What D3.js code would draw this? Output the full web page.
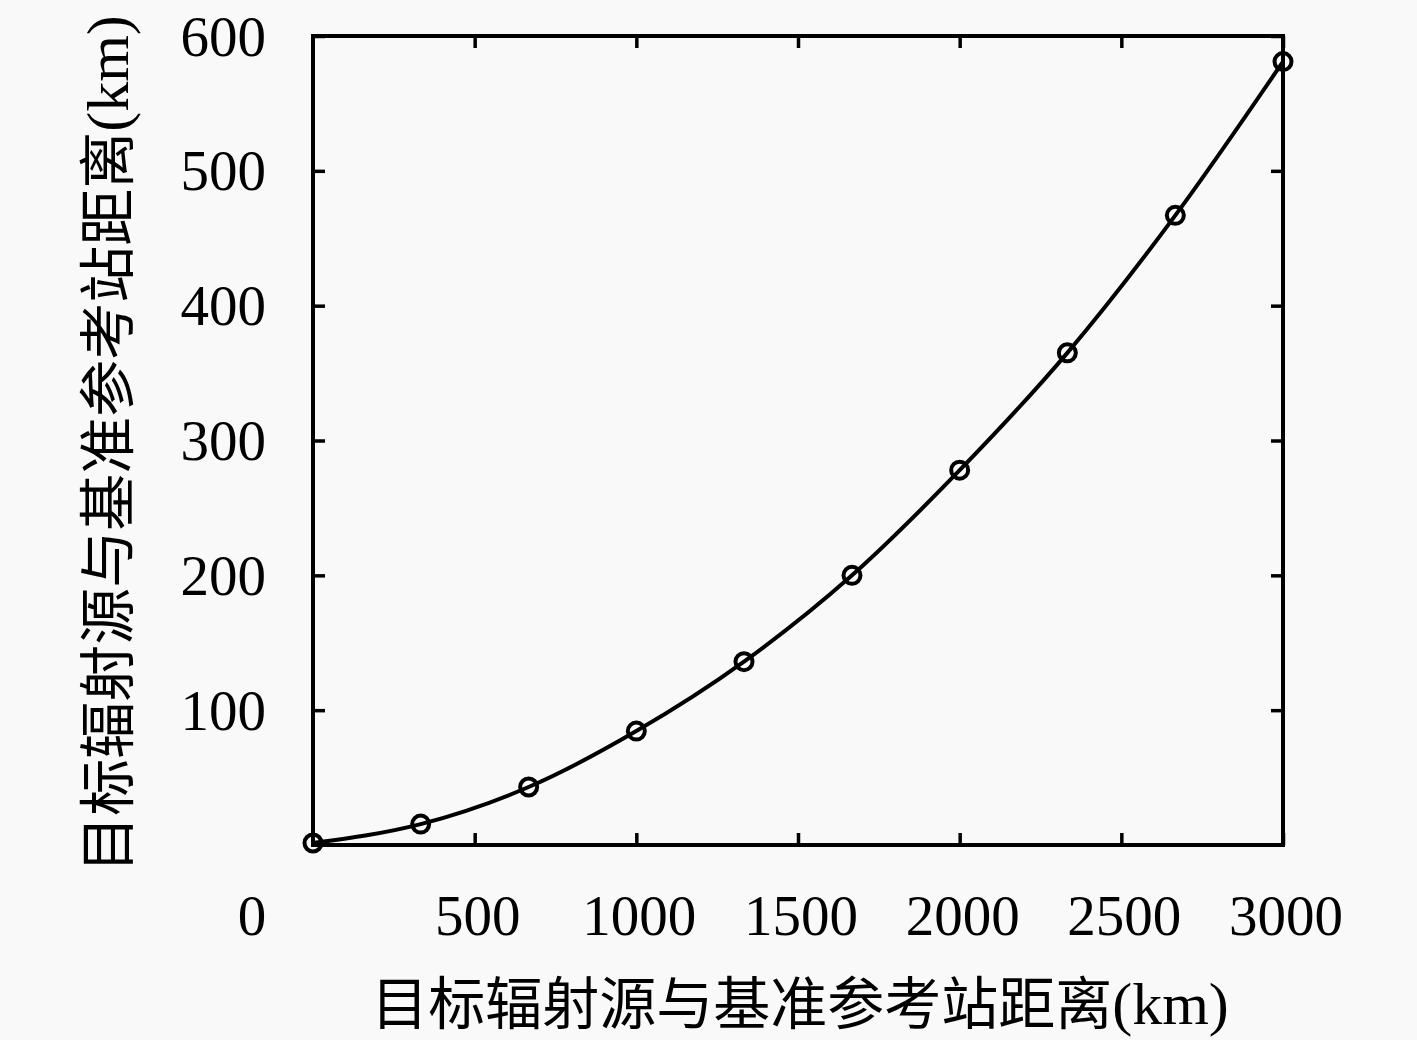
<!DOCTYPE html>
<html>
<head>
<meta charset="utf-8">
<script src="https://cdn.jsdelivr.net/npm/d3@7"></script>
<style>
  body { margin: 0; background: #f9f9f9; }
  svg { display: block; }
</style>
</head>
<body>
<div id="chart"></div>
<script>
// distance of emitter from reference station (km) vs. error (km)
const distances = [0, 333, 667, 1000, 1333, 1667, 2000, 2333, 2667, 3000];
const errors = [1.5, 15.5, 43, 84.5, 136, 200, 278, 365, 467, 581];
const xTicks = [500, 1000, 1500, 2000, 2500, 3000];
const yTicks = [100, 200, 300, 400, 500, 600];
const xLabel = '目标辐射源与基准参考站距离';
const yLabel = '目标辐射源与基准参考站距离';

const width = 1417;
const height = 1040;
const margin = { left: 313, right: 134, top: 36, bottom: 195 };
const numFont = '"Liberation Serif", "DejaVu Serif", serif';
const cjkFont = '"Noto Sans CJK SC", sans-serif';

const svg = d3.select('#chart')
    .append('svg')
    .attr('width', width)
    .attr('height', height)
    .style('background', '#f9f9f9');

const x = d3.scaleLinear().domain([0, 3000]).range([margin.left, width - margin.right]);
const y = d3.scaleLinear().domain([0, 600]).range([height - margin.bottom, margin.top]);

const tickLen = 12;

// ticks on all four sides, pointing in
svg.append('g')
    .attr('transform', `translate(0,${y(0)})`)
    .call(d3.axisBottom(x).tickValues(xTicks).tickSize(-tickLen).tickFormat(''))
    .call(g => g.select('.domain').remove());
svg.append('g')
    .attr('transform', `translate(0,${y(600)})`)
    .call(d3.axisTop(x).tickValues(xTicks).tickSize(-tickLen).tickFormat(''))
    .call(g => g.select('.domain').remove());
svg.append('g')
    .attr('transform', `translate(${x(0)},0)`)
    .call(d3.axisLeft(y).tickValues(yTicks).tickSize(-tickLen).tickFormat(''))
    .call(g => g.select('.domain').remove());
svg.append('g')
    .attr('transform', `translate(${x(3000)},0)`)
    .call(d3.axisRight(y).tickValues(yTicks).tickSize(-tickLen).tickFormat(''))
    .call(g => g.select('.domain').remove());
svg.selectAll('.tick line').attr('stroke', '#000').attr('stroke-width', 3.5);

// frame
svg.append('rect')
    .attr('x', x(0))
    .attr('y', y(600))
    .attr('width', x(3000) - x(0))
    .attr('height', y(0) - y(600))
    .attr('fill', 'none')
    .attr('stroke', '#000')
    .attr('stroke-width', 4);

// tick labels
svg.selectAll('.xlab')
    .data(xTicks)
    .enter()
    .append('text')
    .attr('x', d => x(d) + 3)
    .attr('y', 915)
    .attr('text-anchor', 'middle')
    .attr('dominant-baseline', 'central')
    .attr('font-family', numFont)
    .attr('font-size', 57)
    .text(d => d);

svg.selectAll('.ylab')
    .data(yTicks)
    .enter()
    .append('text')
    .attr('x', 266)
    .attr('y', d => y(d))
    .attr('text-anchor', 'end')
    .attr('dominant-baseline', 'central')
    .attr('font-family', numFont)
    .attr('font-size', 57)
    .text(d => d);

svg.append('text')
    .attr('x', 252)
    .attr('y', 915)
    .attr('text-anchor', 'middle')
    .attr('dominant-baseline', 'central')
    .attr('font-family', numFont)
    .attr('font-size', 57)
    .text('0');

// axis titles
const xt = svg.append('text')
    .attr('x', 800)
    .attr('y', 1024)
    .attr('text-anchor', 'middle')
    .attr('font-size', 57);
xt.append('tspan').attr('font-family', cjkFont).text(xLabel);
xt.append('tspan').attr('font-family', numFont).attr('font-size', 60).text('(km)');

const yt = svg.append('text')
    .attr('transform', 'translate(128,444) rotate(-90)')
    .attr('text-anchor', 'middle')
    .attr('font-size', 57);
yt.append('tspan').attr('font-family', cjkFont).text(yLabel);
yt.append('tspan').attr('font-family', numFont).attr('font-size', 60).text('(km)');

// curve and markers
const pts = distances.map((d, i) => [d, errors[i]]);

svg.append('path')
    .datum(pts)
    .attr('fill', 'none')
    .attr('stroke', '#000')
    .attr('stroke-width', 4)
    .attr('d', d3.line().x(d => x(d[0])).y(d => y(d[1])).curve(d3.curveMonotoneX));

svg.selectAll('circle')
    .data(pts)
    .enter()
    .append('circle')
    .attr('cx', d => x(d[0]))
    .attr('cy', d => y(d[1]))
    .attr('r', 8.5)
    .attr('fill', 'none')
    .attr('stroke', '#000')
    .attr('stroke-width', 4);
</script>
</body>
</html>
